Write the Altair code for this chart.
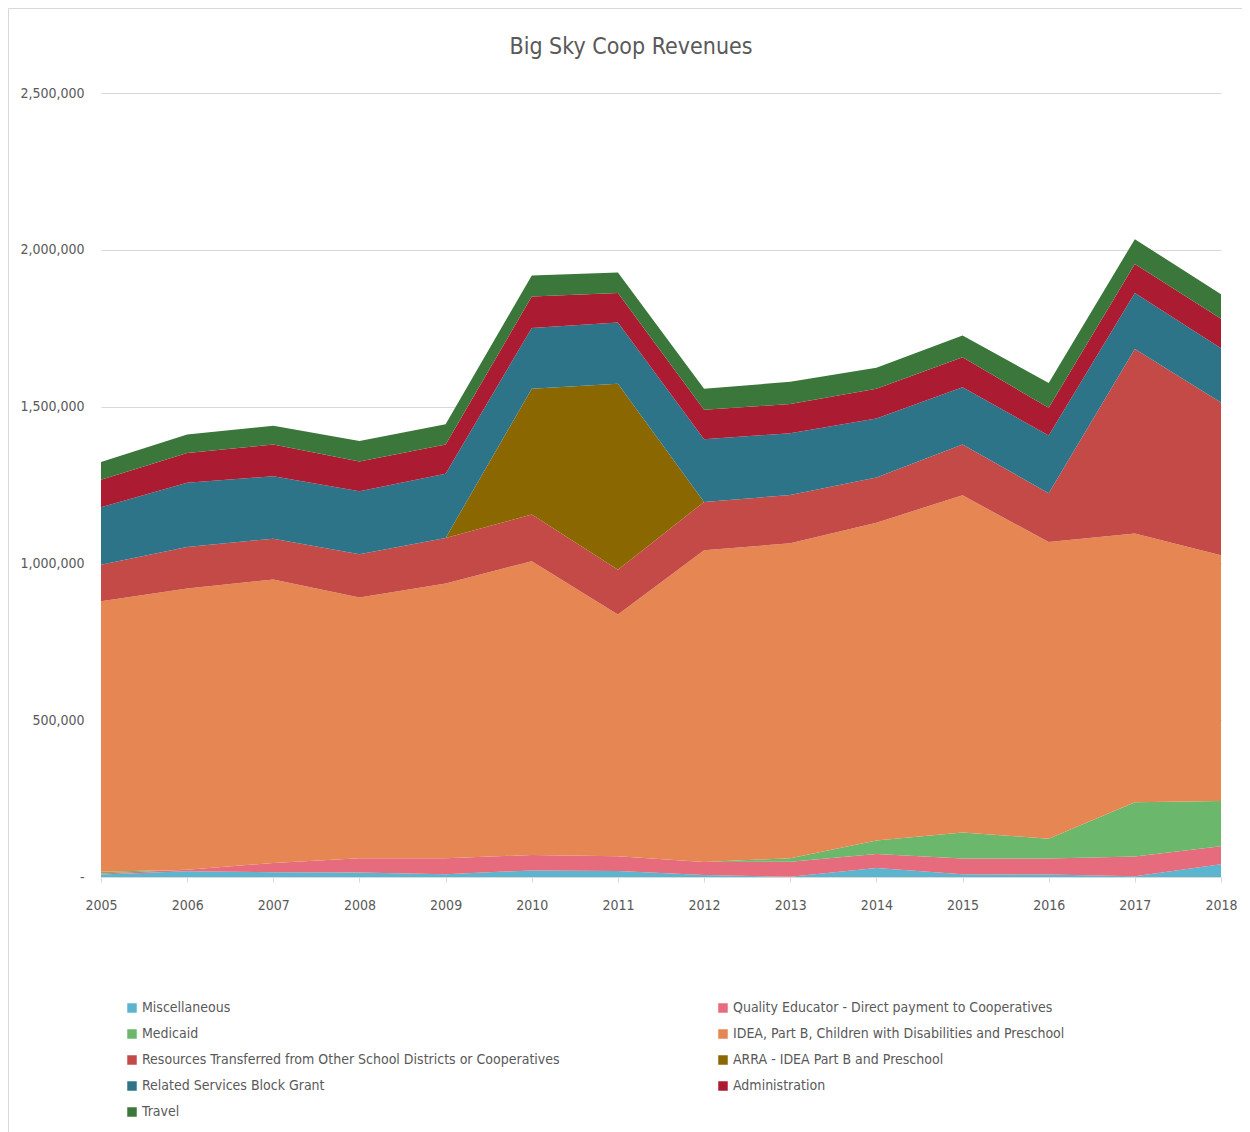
import altair as alt
import pandas as pd

years = list(range(2005, 2019))

series_names = [
    "Miscellaneous",
    "Quality Educator  - Direct payment to Cooperatives",
    "Medicaid",
    "IDEA, Part B, Children with Disabilities and Preschool",
    "Resources Transferred from Other School Districts or Cooperatives",
    "ARRA - IDEA Part B and Preschool",
    "Related Services Block Grant",
    "Administration",
    "Travel",
]
colors = ["#5bb5cf", "#e66b7d", "#6bb76c", "#e68652", "#c44a48",
          "#8b6700", "#2d7489", "#ab1c33", "#3b763b"]

misc = [8000, 18000, 15000, 14000, 9000, 21000, 19000, 6000, 1000, 29000, 9000, 8000, 2000, 41000]
quality = [3000, 5000, 30000, 46000, 51000, 49000, 47000, 42000, 48000, 44000, 50000, 51000, 63000, 57000]
medicaid = [6000, 0, 0, 0, 0, 0, 0, 0, 11000, 43000, 83000, 63000, 173000, 144000]
idea = [862000, 897000, 904000, 831000, 876000, 937000, 771000, 994000, 1004000, 1014000, 1075000, 946000, 857000, 784000]
resources = [117000, 132000, 130000, 138000, 145000, 149000, 143000, 154000, 154000, 144000, 162000, 156000, 589000, 487000]
arra = [0, 0, 0, 0, 0, 401000, 593000, 0, 0, 0, 0, 0, 0, 0]
related = [183000, 205000, 199000, 201000, 205000, 194000, 195000, 200000, 197000, 188000, 183000, 184000, 178000, 173000]
admin = [88000, 95000, 101000, 95000, 93000, 100000, 94000, 94000, 93000, 95000, 95000, 88000, 93000, 94000]
travel = [56000, 59000, 60000, 65000, 65000, 67000, 66000, 67000, 71000, 67000, 70000, 79000, 79000, 78000]

all_series = [misc, quality, medicaid, idea, resources, arra, related, admin, travel]

rows = []
for idx, (name, vals) in enumerate(zip(series_names, all_series)):
    for yr, v in zip(years, vals):
        rows.append({"year": yr, "series": name, "value": v, "idx": idx})
df = pd.DataFrame(rows)

# legend fills column by column; arrange so that it reads row by row like the original
legend_order = [0, 2, 4, 6, 8, 1, 3, 5, 7]
legend_domain = [series_names[i] for i in legend_order]
legend_range = [colors[i] for i in legend_order]

FONT = "Liberation Sans Narrow, DejaVu Sans Condensed, Open Sans, sans-serif"
GRAY = "#595959"

area = alt.Chart(df).mark_area(interpolate="linear").encode(
    x=alt.X("year:Q", title=None,
            scale=alt.Scale(domain=[2005, 2018], nice=False, zero=False),
            axis=alt.Axis(values=years, format="d", grid=False, domain=True,
                          domainColor="#d9d9d9", tickColor="#d9d9d9", tickSize=5,
                          labelFontSize=14, labelColor=GRAY, labelPadding=16,
                          labelFont=FONT, labelFlush=False)),
    y=alt.Y("value:Q", stack="zero", title=None,
            scale=alt.Scale(domain=[0, 2500000], nice=False),
            axis=alt.Axis(values=[0, 500000, 1000000, 1500000, 2000000, 2500000],
                          labelExpr="datum.value == 0 ? '-' : format(datum.value, ',')",
                          domain=False, ticks=False, gridColor="#d9d9d9",
                          labelFontSize=14, labelColor=GRAY, labelPadding=17,
                          labelFont=FONT)),
    color=alt.Color("series:N", title=None,
                    scale=alt.Scale(domain=legend_domain, range=legend_range),
                    legend=alt.Legend(orient="none", legendX=24, legendY=908,
                                      columns=2, columnPadding=156, rowPadding=12,
                                      symbolType="square", symbolSize=90,
                                      symbolStrokeWidth=0, labelFontSize=14,
                                      labelColor=GRAY, labelFont=FONT,
                                      labelLimit=600, labelOffset=3)),
    order=alt.Order("idx:Q", sort="ascending"),
)

frame_df = pd.DataFrame({"k": [0]})
frame_top = alt.Chart(frame_df).mark_rule(color="#d9d9d9", strokeWidth=1).encode(
    x=alt.value(-92.5), x2=alt.value(1141), y=alt.value(-84.5))
frame_left = alt.Chart(frame_df).mark_rule(color="#d9d9d9", strokeWidth=1).encode(
    x=alt.value(-92.5), y=alt.value(-84.5), y2=alt.value(1039))

chart = alt.layer(area, frame_top, frame_left).properties(
    width=1120,
    height=784,
    title=alt.TitleParams("Big Sky Coop Revenues", fontSize=23, font=FONT,
                          color=GRAY, fontWeight="normal", anchor="middle",
                          dx=-30, offset=-51),
    autosize=alt.AutoSizeParams(type="none"),
    padding={"left": 93, "top": 85, "right": 21, "bottom": 255},
).configure(background="white", view=alt.ViewConfig(strokeWidth=0))

chart.save("out.html", embed_options={"renderer": "svg", "actions": False})
